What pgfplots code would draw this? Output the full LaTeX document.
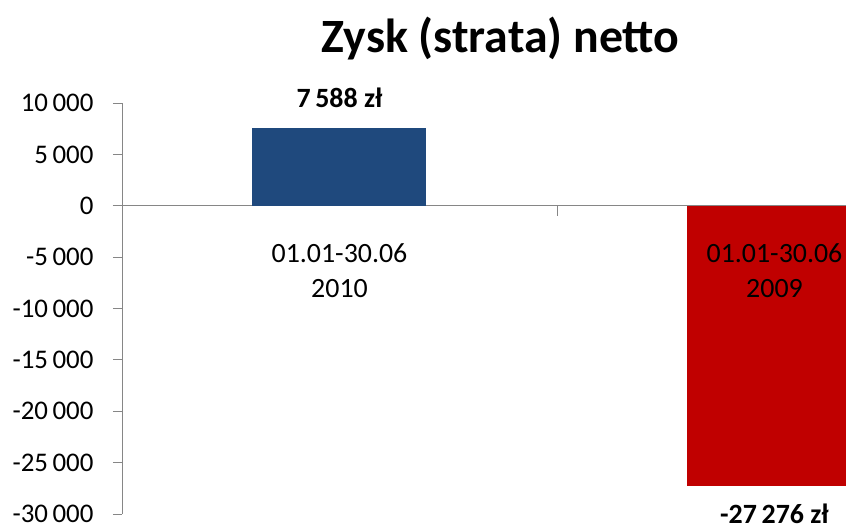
\documentclass[border=0pt]{standalone}
\usepackage{pgfplots}
\pgfplotsset{compat=1.18}
\usepackage{fontspec}
\setmainfont{Carlito}
\definecolor{barblue}{HTML}{1F497D}
\definecolor{barred}{HTML}{C00000}
\definecolor{axgray}{HTML}{868686}
\begin{document}
\begin{tikzpicture}
\useasboundingbox (-122bp,-16bp) rectangle (724bp,514bp);
\begin{axis}[
  at={(0,0)}, anchor=south west,
  scale only axis, width=724bp, height=411bp,
  xmin=-0.5, xmax=1.1644, ymin=-30000, ymax=10000,
  axis x line=none, axis y line*=left,
  ytick={-30000,-25000,-20000,-15000,-10000,-5000,0,5000,10000},
  scaled y ticks=false,
  /pgf/number format/assume math mode=true,
  /pgf/number format/1000 sep={\,},
  tick align=outside, major tick length=9bp,
  y axis line style={axgray, line width=0.9bp},
  ytick style={axgray, line width=0.9bp},
  yticklabel style={font=\fontsize{27}{30}\selectfont, text=black, xshift=-16bp},
  clip mode=individual,
  extra y ticks={0}, extra y tick labels={},
  extra y tick style={grid=major, major grid style={axgray, line width=0.9bp}},
  title={Zysk (strata) netto},
  title style={font=\fontsize{48}{52}\selectfont\bfseries, anchor=base, at={(rel axis cs:0.5228,1)}, yshift=45bp},
]
\addplot[ybar, bar width=0.4, fill=barblue, draw=none] coordinates {(0,7588)};
\addplot[ybar, bar width=0.4, fill=barred, draw=none] coordinates {(1,-27276)};
\draw[axgray, line width=0.9bp] (axis cs:0.5,0) -- ([yshift=-10bp]axis cs:0.5,0);
\node[font=\fontsize{28}{30}\selectfont\bfseries, anchor=base, yshift=20bp] at (axis cs:0,7588) {7\,588 zł};
\node[font=\fontsize{28}{30}\selectfont\bfseries, anchor=base, yshift=-37bp] at (axis cs:1,-27276) {-27\,276 zł};
\node[font=\fontsize{28}{30}\selectfont, anchor=base, yshift=-56.5bp] at (axis cs:0,0) {01.01-30.06};
\node[font=\fontsize{28}{30}\selectfont, anchor=base, yshift=-91.5bp] at (axis cs:0,0) {2010};
\node[font=\fontsize{28}{30}\selectfont, anchor=base, yshift=-56.5bp] at (axis cs:1,0) {01.01-30.06};
\node[font=\fontsize{28}{30}\selectfont, anchor=base, yshift=-91.5bp] at (axis cs:1,0) {2009};
\end{axis}
\end{tikzpicture}
\end{document}
